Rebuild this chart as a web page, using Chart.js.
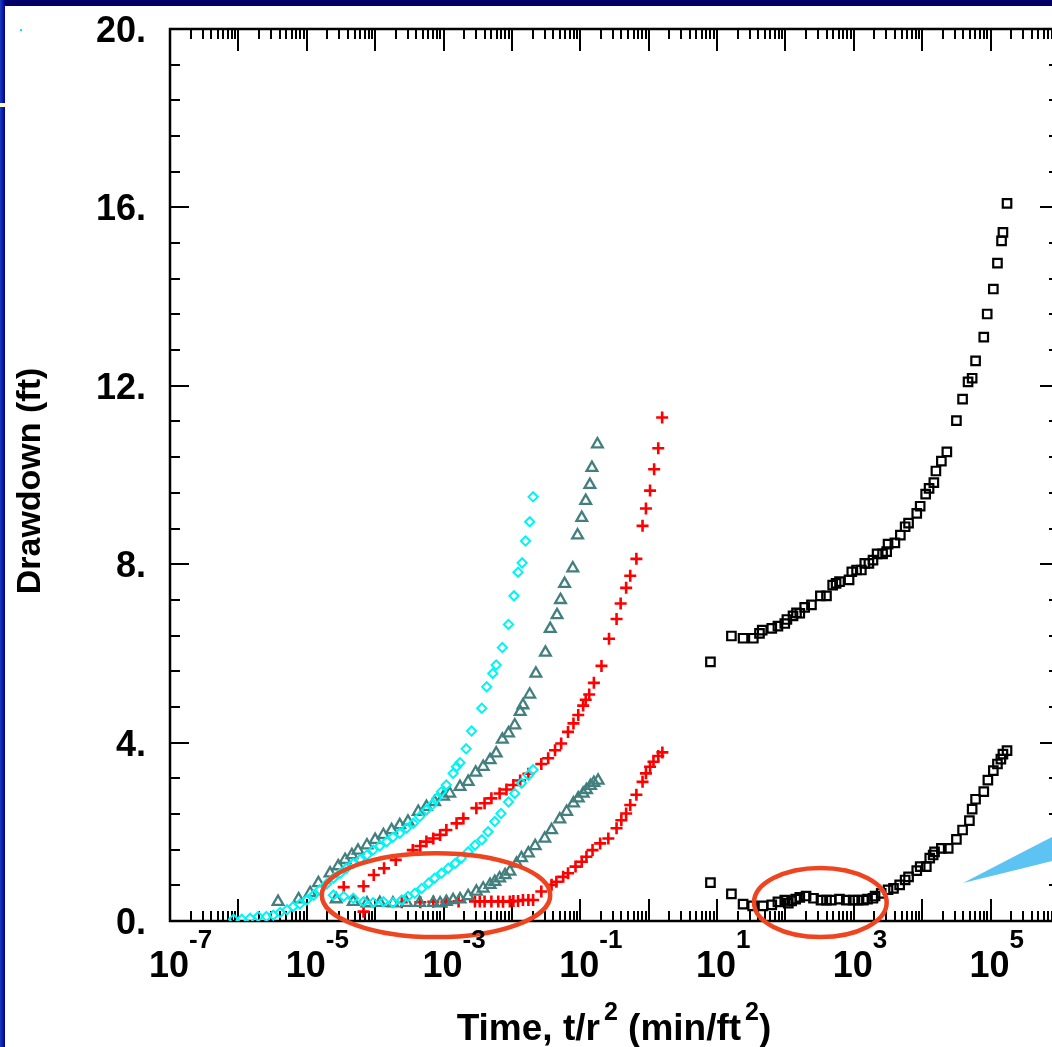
<!DOCTYPE html>
<html><head><meta charset="utf-8">
<script src="https://cdn.jsdelivr.net/npm/chart.js@4/dist/chart.umd.min.js"></script>
<style>
html,body{margin:0;padding:0;background:#fff;overflow:hidden;width:1052px;height:1047px}
#wrap{position:relative;width:1052px;height:1047px;overflow:hidden;background:#fff}
#c{position:absolute;left:0;top:0}
.topband{position:absolute;left:0;top:0;width:1052px;height:6px;background:#000066}
.leftband{position:absolute;left:0;top:0;width:5px;height:1047px;background:linear-gradient(90deg,#1a3cc4,#000080)}
.cream{position:absolute;left:0;top:103px;width:6px;height:4px;background:#fffbd0}
.dot{position:absolute;left:20px;top:29px;width:2px;height:2px;background:#00e8ff}
svg.wedge{position:absolute;left:0;top:0}
</style></head>
<body>
<div id="wrap">
<canvas id="c" width="1075" height="1047"></canvas>
<div class="topband"></div><div class="leftband"></div><div class="cream"></div><div class="dot"></div>
<svg class="wedge" width="1052" height="1047"><polygon points="963,883 1052,837 1052,861" fill="#5cc3f2"/></svg>
</div>
<script>
// ---- data: [t/r^2 (min/ft^2), drawdown (ft)] ----
const cyanUpperX = [8.51e-7,1.12e-6,1.48e-6,1.95e-6,2.57e-6,3.24e-6,4.07e-6,5.13e-6,6.31e-6,7.94e-6,1.0e-5,1.26e-5,1.55e-5,1.95e-5,2.45e-5,3.09e-5,3.80e-5,4.79e-5,6.03e-5,7.59e-5,9.33e-5,1.17e-4,1.48e-4,1.82e-4,2.29e-4,2.88e-4,3.63e-4,4.47e-4,5.62e-4,6.76e-4,7.94e-4,9.33e-4,1.10e-3,1.38e-3,1.55e-3,1.74e-3,2.14e-3,2.57e-3,3.63e-3,4.27e-3,5.25e-3,5.89e-3,7.24e-3,8.91e-3,1.07e-2,1.23e-2,1.41e-2,1.58e-2,1.82e-2,2.04e-2];
const cyanUpperY = [0.04,0.04,0.06,0.10,0.10,0.13,0.19,0.25,0.32,0.38,0.47,0.58,0.70,0.83,0.96,1.07,1.18,1.29,1.38,1.48,1.59,1.68,1.78,1.88,1.97,2.08,2.19,2.34,2.49,2.60,2.75,2.90,3.05,3.31,3.46,3.55,3.86,4.26,4.77,5.25,5.55,5.74,6.13,6.65,7.29,7.82,8.03,8.52,8.95,9.51];
const cyanLowerX = [2.45e-5,3.47e-5,4.79e-5,6.76e-5,9.33e-5,1.32e-4,1.82e-4,2.45e-4,3.02e-4,3.80e-4,4.79e-4,6.03e-4,7.41e-4,9.33e-4,1.17e-3,1.48e-3,1.82e-3,2.29e-3,2.88e-3,3.63e-3,4.47e-3,5.62e-3,6.92e-3,8.91e-3,1.10e-2,1.38e-2,1.74e-2,2.04e-2];
const cyanLowerY = [0.58,0.55,0.51,0.43,0.41,0.43,0.41,0.47,0.55,0.62,0.73,0.85,0.96,1.07,1.18,1.29,1.41,1.55,1.70,1.82,2.00,2.23,2.41,2.67,2.86,3.09,3.27,3.39];

const greyUpperX = [3.80e-6,7.59e-6,1.12e-5,1.48e-5,2.19e-5,2.88e-5,3.63e-5,4.57e-5,5.62e-5,7.59e-5,1.0e-4,1.32e-4,1.74e-4,2.29e-4,3.02e-4,4.27e-4,5.62e-4,7.41e-4,1.0e-3,1.23e-3,1.74e-3,2.29e-3,2.95e-3,3.80e-3,4.79e-3,5.89e-3,7.24e-3,8.91e-3,1.10e-2,1.32e-2,1.45e-2,1.82e-2,2.24e-2,3.09e-2,3.63e-2,4.57e-2,5.13e-2,5.89e-2,7.76e-2,9.12e-2,0.105,0.120,0.138,0.148,0.178];
const greyUpperY = [0.43,0.49,0.63,0.85,1.07,1.23,1.37,1.48,1.58,1.70,1.82,1.93,2.04,2.15,2.23,2.45,2.56,2.67,2.79,2.86,3.01,3.12,3.33,3.46,3.61,3.76,4.07,4.21,4.39,4.69,4.84,5.08,5.55,6.02,6.55,6.86,7.20,7.56,7.91,8.65,9.04,9.42,9.78,10.16,10.69];
const greyLowerX = [2.69e-5,4.79e-5,7.59e-5,1.17e-4,1.82e-4,2.88e-4,4.47e-4,7.08e-4,8.91e-4,1.10e-3,1.38e-3,1.74e-3,2.29e-3,3.02e-3,3.80e-3,4.79e-3,5.62e-3,6.61e-3,7.94e-3,9.33e-3,1.17e-2,1.38e-2,1.74e-2,2.19e-2,3.02e-2,3.80e-2,5.01e-2,6.31e-2,7.94e-2,9.33e-2,0.110,0.123,0.141,0.158,0.182];
const greyLowerY = [0.49,0.43,0.40,0.41,0.40,0.41,0.41,0.41,0.40,0.43,0.47,0.49,0.56,0.66,0.73,0.81,0.88,0.96,1.03,1.11,1.29,1.41,1.52,1.68,1.85,2.04,2.28,2.45,2.64,2.75,2.86,2.94,3.03,3.10,3.15];

const redUpperX = [3.47e-5,6.76e-5,9.55e-5,1.35e-4,2.00e-4,3.55e-4,4.57e-4,5.62e-4,7.08e-4,8.91e-4,1.10e-3,1.55e-3,1.95e-3,3.02e-3,3.98e-3,5.01e-3,6.61e-3,8.32e-3,1.05e-2,1.32e-2,1.74e-2,2.69e-2,3.39e-2,4.27e-2,5.25e-2,6.61e-2,7.94e-2,9.33e-2,0.110,0.120,0.135,0.158,0.204,0.263,0.339,0.389,0.468,0.537,0.661,0.813,0.912,1.047,1.202,1.380,1.574];
const redUpperY = [0.76,0.78,1.03,1.18,1.37,1.59,1.68,1.78,1.85,1.93,2.04,2.19,2.30,2.53,2.64,2.75,2.86,2.95,3.05,3.15,3.30,3.52,3.65,3.83,3.98,4.24,4.43,4.62,4.83,4.96,5.08,5.34,5.72,6.33,6.77,7.12,7.47,7.74,8.12,8.86,9.25,9.65,10.13,10.60,11.29];
const redLowerX = [6.76e-5,2.45e-4,4.57e-4,7.08e-4,1.10e-3,1.66e-3,2.88e-3,3.39e-3,3.98e-3,5.01e-3,6.31e-3,7.41e-3,9.33e-3,1.05e-2,1.23e-2,1.45e-2,1.74e-2,2.04e-2,2.69e-2,3.80e-2,4.47e-2,5.62e-2,6.61e-2,8.51e-2,0.105,0.123,0.151,0.195,0.257,0.339,0.398,0.468,0.537,0.661,0.813,0.912,1.047,1.175,1.380,1.585];
const redLowerY = [0.21,0.42,0.42,0.43,0.43,0.44,0.44,0.44,0.44,0.44,0.44,0.43,0.44,0.45,0.45,0.47,0.47,0.47,0.66,0.81,0.88,0.99,1.07,1.22,1.33,1.44,1.59,1.74,1.85,2.08,2.26,2.41,2.60,2.83,3.12,3.31,3.46,3.57,3.70,3.78];

const blackUpperX = [8.0,16.2,24.0,33.9,41.7,45.7,63.1,77.6,97.7,105,129,145,162,191,240,324,398,490,550,617,851,933,1096,1288,1445,1660,1905,2188,2630,3020,3162,3981,4786,5623,6310,8318,9333,11220,12590,14790,15850,19050,22910,31620,38900,46770,53700,60260,79430,89130,109600,125900,144500,151400,173800];
const blackUpperY = [5.81,6.39,6.34,6.34,6.45,6.52,6.56,6.61,6.67,6.76,6.84,6.91,6.90,7.03,7.09,7.29,7.29,7.53,7.57,7.61,7.65,7.83,7.87,7.87,8.02,8.02,8.09,8.23,8.23,8.28,8.45,8.48,8.65,8.84,8.92,9.14,9.30,9.57,9.70,9.83,10.09,10.31,10.52,11.22,11.70,12.09,12.17,12.56,13.09,13.61,14.17,14.75,15.25,15.44,16.09];
const blackLowerX = [8.0,16.2,24.0,33.1,46.8,63.1,77.6,97.7,110,123,141,162,200,257,331,398,468,617,776,977,1148,1380,1585,1905,2042,2512,3162,3802,4677,5623,6310,8318,9333,11480,12880,14450,15140,19050,23990,31620,38900,48980,53700,60260,79430,91200,109600,125900,141300,151400,173800];
const blackLowerY = [0.86,0.61,0.38,0.34,0.34,0.36,0.43,0.47,0.40,0.45,0.49,0.53,0.56,0.51,0.47,0.47,0.47,0.49,0.47,0.47,0.47,0.47,0.49,0.51,0.56,0.62,0.70,0.73,0.81,0.92,0.99,1.13,1.22,1.22,1.41,1.48,1.55,1.63,1.63,1.83,2.04,2.25,2.51,2.73,2.90,3.16,3.37,3.52,3.63,3.74,3.82];

// ---- axis text ----
const xTickValues = [1e-7,1e-5,1e-3,1e-1,1e1,1e3,1e5];
const xTickExponents = ['-7','-5','-3','-1','1','3','5'];
const yTickValues = [0,4,8,12,16,20];
const yTickLabels = ['0.','4.','8.','12.','16.','20.'];
const xTitleParts = [['Time, t/r',false],['2',true],[' (min/ft',false],['2',true],[')',false]];
const yTitle = 'Drawdown (ft)';
// highlight ellipses (data-unit bounds)
const ellipses = [
  {xMin:1.66e-5, xMax:3.63e-2, yMin:-0.36, yMax:1.52},
  {xMin:34.7, xMax:3020, yMin:-0.36, yMax:1.19}
];

const FONT = '"Liberation Sans", Arial, Helvetica, sans-serif';
const pts = (xs, ys) => xs.map((v,i)=>({x:v, y:ys[i]}));

const axesPlugin = {
  id:'axesFrame',
  beforeDatasetsDraw(chart){
    const {ctx, chartArea:a, scales:{x,y}} = chart;
    ctx.save();
    ctx.strokeStyle = '#000';
    ctx.lineWidth = 2;
    ctx.beginPath();
    for (let e=-7; e<=6; e++){
      for (let m=1; m<=9; m++){
        const v = m*Math.pow(10,e);
        if (v > 1.0001e6) break;
        const px = Math.round(x.getPixelForValue(v));
        const len = m===1 ? 22 : 10;
        ctx.moveTo(px, a.bottom); ctx.lineTo(px, a.bottom-len);
        ctx.moveTo(px, a.top); ctx.lineTo(px, a.top+len);
      }
    }
    for (let i=0; i<=25; i++){
      const py = Math.round(y.getPixelForValue(i*0.8));
      const len = i%5===0 ? 19 : 10;
      ctx.moveTo(a.left, py); ctx.lineTo(a.left+len, py);
      ctx.moveTo(a.right, py); ctx.lineTo(a.right-len, py);
    }
    ctx.stroke();
    ctx.lineWidth = 2.5;
    ctx.strokeRect(a.left, a.top, a.right-a.left, a.bottom-a.top);
    ctx.restore();
  },
  afterDraw(chart){
    const {ctx, chartArea:a, scales:{x,y}} = chart;
    ctx.save();
    // ellipses
    ctx.strokeStyle = '#ee4420';
    ctx.lineWidth = 4.5;
    ellipses.forEach(el=>{
      const x1 = x.getPixelForValue(el.xMin), x2 = x.getPixelForValue(el.xMax);
      const y1 = y.getPixelForValue(el.yMax), y2 = y.getPixelForValue(el.yMin);
      ctx.beginPath();
      ctx.ellipse((x1+x2)/2, (y1+y2)/2, (x2-x1)/2, (y2-y1)/2, 0, 0, Math.PI*2);
      ctx.stroke();
    });
    ctx.fillStyle = '#000';
    ctx.textBaseline = 'alphabetic';
    // y tick labels
    ctx.font = 'bold 36px ' + FONT;
    ctx.textAlign = 'right';
    yTickValues.forEach((v,i)=>{
      ctx.fillText(yTickLabels[i], a.left-24, y.getPixelForValue(v)+13);
    });
    // x tick labels
    xTickValues.forEach((v,i)=>{
      const px = x.getPixelForValue(v);
      ctx.font = 'bold 36px ' + FONT;
      ctx.textAlign = 'center';
      ctx.fillText('10', px-1, a.bottom+56);
      ctx.font = 'bold 26px ' + FONT;
      ctx.textAlign = 'left';
      ctx.fillText(xTickExponents[i], px+19, a.bottom+27);
    });
    // x title
    const big = 'bold 37px ' + FONT, sup = 'bold 25px ' + FONT;
    let total = 0;
    xTitleParts.forEach(([t,s])=>{ ctx.font = s?sup:big; total += ctx.measureText(t).width + (s?4:0); });
    let cx = 614 - total/2;
    const base = 1040;
    ctx.textAlign = 'left';
    xTitleParts.forEach(([t,s])=>{
      ctx.font = s?sup:big;
      if (s){ cx += 4; ctx.fillText(t, cx, base-20); }
      else ctx.fillText(t, cx, base);
      cx += ctx.measureText(t).width;
    });
    // y title
    ctx.font = 'bold 34px ' + FONT;
    ctx.textAlign = 'center';
    ctx.translate(40, (a.top+a.bottom)/2 + 6);
    ctx.rotate(-Math.PI/2);
    ctx.fillText(yTitle, 0, 0);
    ctx.restore();
  }
};

new Chart(document.getElementById('c'), {
  type:'scatter',
  data:{ datasets:[
    {data:pts(cyanUpperX,cyanUpperY), pointStyle:'rectRot', radius:4.6, borderColor:'#00f4f4', borderWidth:2, backgroundColor:'rgba(0,0,0,0)'},
    {data:pts(cyanLowerX,cyanLowerY), pointStyle:'rectRot', radius:4.6, borderColor:'#00f4f4', borderWidth:2, backgroundColor:'rgba(0,0,0,0)'},
    {data:pts(greyUpperX,greyUpperY), pointStyle:'triangle', radius:6.2, borderColor:'#437f7f', borderWidth:2.3, backgroundColor:'rgba(0,0,0,0)'},
    {data:pts(greyLowerX,greyLowerY), pointStyle:'triangle', radius:6.2, borderColor:'#437f7f', borderWidth:2.3, backgroundColor:'rgba(0,0,0,0)'},
    {data:pts(redUpperX,redUpperY), pointStyle:'cross', radius:6, borderColor:'#ff0000', borderWidth:2.6, backgroundColor:'rgba(0,0,0,0)'},
    {data:pts(redLowerX,redLowerY), pointStyle:'cross', radius:6, borderColor:'#ff0000', borderWidth:2.6, backgroundColor:'rgba(0,0,0,0)'},
    {data:pts(blackUpperX,blackUpperY), pointStyle:'rect', radius:6, borderColor:'#000', borderWidth:2.2, backgroundColor:'rgba(0,0,0,0)'},
    {data:pts(blackLowerX,blackLowerY), pointStyle:'rect', radius:6, borderColor:'#000', borderWidth:2.2, backgroundColor:'rgba(0,0,0,0)'}
  ]},
  options:{
    responsive:false, animation:false, devicePixelRatio:1,
    layout:{padding:{left:0, top:29, right:16, bottom:0}},
    plugins:{legend:{display:false}, tooltip:{enabled:false}},
    elements:{point:{hoverRadius:6}},
    scales:{
      x:{type:'logarithmic', min:1e-7, max:1e6, display:true,
         ticks:{display:false}, grid:{display:false}, border:{display:false},
         afterFit(s){ s.height = 126; }},
      y:{type:'linear', min:0, max:20, display:true,
         ticks:{display:false, stepSize:4},
         grid:{display:false}, border:{display:false},
         afterFit(s){ s.width = 170; }}
    }
  },
  plugins:[axesPlugin]
});
</script>
</body></html>
